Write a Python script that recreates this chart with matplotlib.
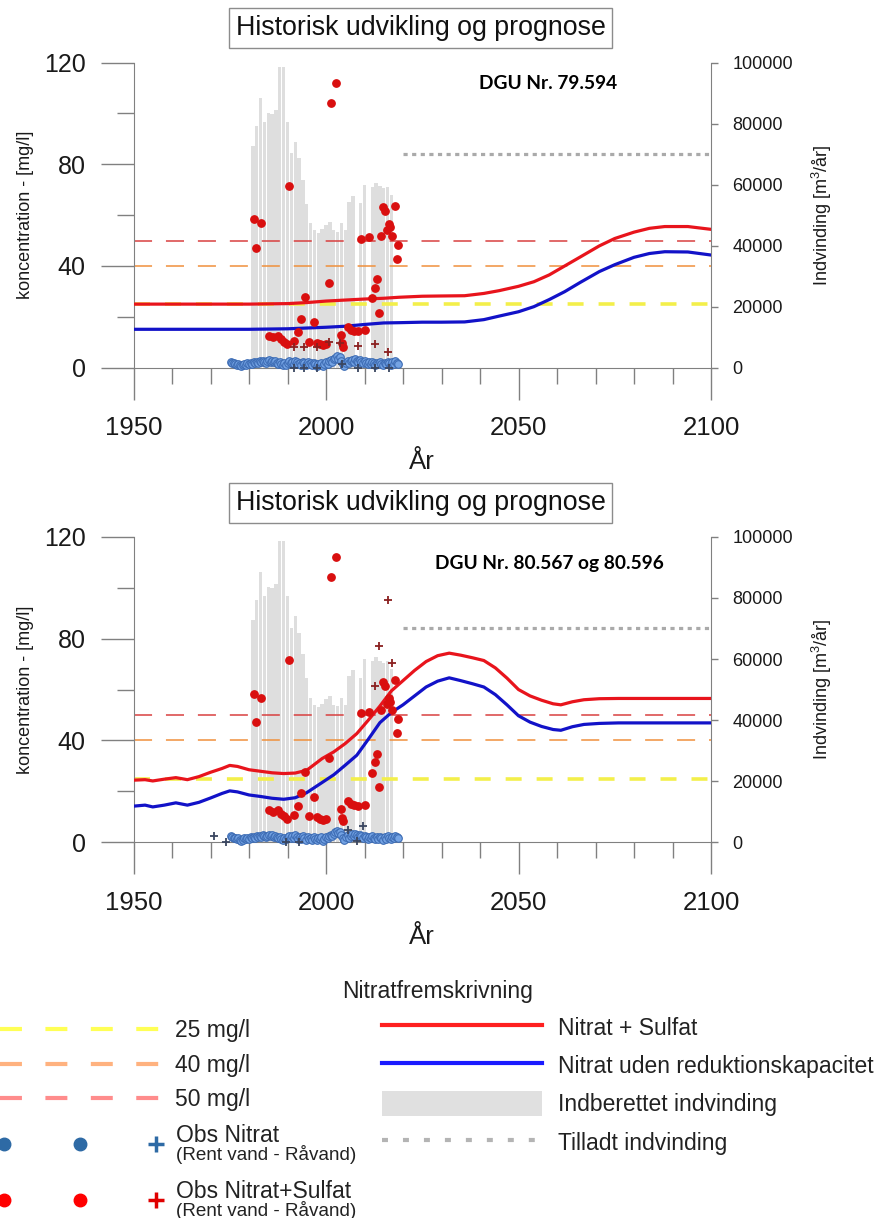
import matplotlib
matplotlib.use("Agg")
import matplotlib.pyplot as plt
from matplotlib.lines import Line2D
from matplotlib.patches import Patch
from matplotlib.legend_handler import HandlerTuple, HandlerLine2D
from matplotlib.ticker import MultipleLocator, FixedLocator

plt.rcParams['font.family'] = ['Liberation Sans', 'DejaVu Sans']
plt.rcParams['mathtext.fontset'] = 'custom'
plt.rcParams['mathtext.rm'] = 'Liberation Sans'
plt.rcParams['mathtext.default'] = 'regular'
plt.rcParams['lines.scale_dashes'] = False

# --- reported abstraction (m3/year), shared by both panels
bar_years = list(range(1981, 2018))
bar_values = [72700, 79200, 88500, 80600, 83600, 83100, 84500, 98500, 98500, 80600,
              70300, 74100, 68600, 61500, 53700, 47300, 45100, 44200, 45400, 46800,
              47800, 45100, 44600, 47300, 45100, 54400, 56300, 0, 53900, 59900,
              0, 59300, 60600, 59500, 58800, 59300, 56600]
allowed_years = [2020, 2100]
allowed_values = [70000, 70000]

# --- observations (mg/l), shared by both panels
obs_nitrat_years = [1975.2, 1975.6, 1976.0, 1976.4, 1976.8, 1977.2, 1977.6, 1978.0, 1978.4, 1978.8,
                    1979.2, 1979.6, 1980.0, 1980.4, 1980.8, 1981.2, 1981.6, 1982.0, 1982.4, 1982.8,
                    1983.2, 1983.6, 1984.0, 1984.4, 1984.8, 1985.2, 1985.6, 1986.0, 1986.4, 1986.8,
                    1987.2, 1987.6, 1988.0, 1988.4, 1988.8, 1989.2, 1989.6, 1990.0, 1990.4, 1990.8,
                    1991.2, 1991.6, 1992.0, 1992.4, 1992.8, 1993.2, 1993.6, 1994.0, 1994.4, 1994.8,
                    1995.2, 1995.6, 1996.0, 1996.4, 1996.8, 1997.2, 1997.6, 1998.0, 1998.4, 1998.8,
                    1999.2, 1999.6, 2000.0, 2000.4, 2000.8, 2001.2, 2001.6, 2002.0, 2002.4, 2002.8,
                    2003.2, 2003.6, 2004.0, 2004.4, 2004.8, 2005.2, 2005.6, 2006.0, 2006.4, 2006.8,
                    2007.2, 2007.6, 2008.0, 2008.4, 2008.8, 2009.2, 2009.6, 2010.0, 2010.4, 2010.8,
                    2011.2, 2011.6, 2012.0, 2012.4, 2012.8, 2013.2, 2013.6, 2014.0, 2014.4, 2014.8,
                    2015.2, 2015.6, 2016.0, 2016.4, 2016.8, 2017.2, 2017.6, 2018.0, 2018.4, 2018.8]
obs_nitrat_values = [2.4, 2.0, 1.8, 1.5, 1.2, 1.6, 0.9, 0.6, 1.0, 1.5,
                     1.2, 1.8, 1.4, 2.0, 1.6, 2.2, 1.8, 2.4, 2.0, 2.6,
                     2.2, 2.8, 2.4, 2.0, 2.6, 3.0, 2.4, 2.8, 2.2, 2.6,
                     2.0, 1.6, 2.2, 1.4, 1.0, 1.8, 1.2, 2.0, 2.6, 1.8,
                     2.4, 1.6, 2.8, 2.2, 1.4, 2.0, 1.2, 2.4, 1.8, 1.0,
                     2.2, 1.4, 1.8, 1.0, 2.0, 1.4, 0.8, 1.6, 1.2, 2.0,
                     0.6, 1.4, 2.2, 1.6, 2.6, 3.0, 2.4, 3.4, 4.0, 4.6,
                     3.6, 4.2, 2.8, 1.6, 0.8, 2.0, 2.8, 1.8, 2.6, 3.2,
                     2.4, 3.4, 2.8, 2.2, 3.0, 2.4, 1.8, 2.6, 2.0, 1.4,
                     2.2, 1.6, 2.4, 1.8, 1.2, 2.0, 1.4, 2.2, 1.6, 1.0,
                     2.0, 1.4, 2.4, 1.8, 1.2, 2.2, 1.6, 2.6, 2.0, 1.6]
obs_sulfat_years = [1981.3, 1981.9, 1983.2, 1985.2, 1986.3, 1987.6, 1988.3, 1989.0, 1989.8, 1990.5,
                    1991.6, 1992.7, 1993.6, 1994.5, 1995.7, 1996.8, 1997.6, 1998.4, 1999.3, 2000.0,
                    2000.8, 2001.4, 2002.7, 2004.0, 2004.1, 2004.3, 2005.7, 2006.5, 2007.4, 2008.4,
                    2009.1, 2010.2, 2011.1, 2012.0, 2012.6, 2013.2, 2013.8, 2014.4, 2014.7, 2015.2,
                    2015.8, 2016.3, 2016.7, 2017.1, 2017.8, 2018.5, 2018.7]
obs_sulfat_values = [58.4, 47.1, 56.7, 12.6, 12.0, 12.5, 11.2, 10.3, 9.3, 71.6,
                     10.6, 14.2, 19.2, 27.7, 10.2, 17.9, 9.8, 9.3, 8.9, 9.3,
                     33.3, 104.2, 112.1, 12.9, 9.6, 8.3, 16.1, 15.0, 14.5, 14.3,
                     50.6, 14.8, 51.3, 27.3, 31.5, 34.8, 21.6, 51.9, 63.1, 61.5,
                     54.2, 56.5, 55.3, 51.8, 63.6, 42.8, 48.3]

# --- raw water observations (crosses), per panel
top_rav_sulfat_years = [1991.6, 1994.4, 1997.6, 2000.9, 2003.7, 2008.2, 2012.6, 2016.0]
top_rav_sulfat_values = [8.0, 8.0, 8.0, 10.0, 9.8, 8.5, 9.3, 6.2]
top_rav_nitrat_years = [1991.6, 1994.4, 1997.6, 2004.2, 2008.2, 2012.6, 2016.4]
top_rav_nitrat_values = [0.0, 0.0, 0.0, 1.5, 0.0, 0.0, 0.0]
bot_rav_sulfat_years = [2012.6, 2013.7, 2016.1, 2017.1]
bot_rav_sulfat_values = [61.2, 77.3, 95.3, 70.4]
bot_rav_nitrat_years = [1970.8, 1974.0, 1989.6, 1993.0, 2005.7, 2008.1, 2009.5]
bot_rav_nitrat_values = [2.6, 0.0, 0.0, 0.0, 4.8, 0.5, 6.5]

# --- model projections (mg/l)
top_years = [1950, 1960, 1970, 1980, 1990, 1995, 2000, 2005, 2010, 2015, 2019, 2025, 2030, 2036,
             2041, 2045, 2050, 2054, 2058, 2062, 2066, 2071, 2075, 2080, 2084, 2088, 2094, 2100]
top_red = [25.0, 25.0, 25.0, 25.0, 25.2, 25.6, 26.2, 26.6, 27.0, 27.3, 27.7, 28.1, 28.2, 28.3,
           29.2, 30.3, 32.0, 33.8, 36.5, 40.0, 43.5, 47.9, 50.8, 53.3, 54.8, 55.5, 55.5, 54.4]
top_blue = [15.1, 15.1, 15.1, 15.1, 15.3, 15.6, 15.9, 16.3, 17.0, 17.6, 17.7, 17.9, 17.9, 18.0,
            18.9, 20.3, 22.0, 24.0, 26.8, 29.9, 33.5, 37.8, 40.5, 43.4, 44.9, 45.6, 45.5, 44.3]

bot_years = [1950, 1953, 1955, 1958, 1961, 1964, 1967, 1970, 1973, 1975, 1977, 1980, 1983, 1986,
             1989, 1992, 1995, 1999, 2002, 2005, 2008, 2011, 2014, 2017, 2020, 2023, 2026, 2029,
             2032, 2035, 2038, 2041, 2044, 2047, 2050, 2053, 2056, 2059, 2061, 2064, 2067, 2071,
             2076, 2085, 2100]
bot_red = [24.4, 24.6, 24.1, 24.8, 25.4, 24.6, 25.8, 27.5, 29.0, 30.2, 29.8, 28.5, 27.9, 27.3,
           27.0, 27.2, 28.3, 32.9, 35.5, 38.8, 42.7, 48.0, 53.5, 59.5, 63.5, 67.5, 71.0, 73.3,
           74.3, 73.5, 72.5, 71.4, 68.5, 64.5, 60.0, 57.5, 55.8, 54.4, 54.0, 55.2, 56.0, 56.4,
           56.5, 56.5, 56.5]
bot_blue = [14.2, 14.6, 13.9, 14.6, 15.5, 14.6, 15.7, 17.4, 19.2, 20.2, 19.8, 18.6, 18.0, 17.3,
            16.9, 17.5, 19.5, 23.5, 26.5, 30.3, 34.2, 40.5, 47.0, 51.0, 54.0, 57.5, 61.0, 63.3,
            64.6, 63.5, 62.3, 61.0, 58.0, 54.0, 49.7, 47.2, 45.5, 44.3, 44.0, 45.4, 46.3, 46.7,
            46.9, 46.9, 46.9]

limits = [25, 40, 50]
limit_colors = ['#f3ef4a', '#f0903c', '#d84040']
left_ticks = [0, 40, 80, 120]
right_ticks = [0, 20000, 40000, 60000, 80000, 100000]
x_ticks = [1950, 2000, 2050, 2100]

W, H = 882, 1218
GRAY = '#808080'
fig = plt.figure(figsize=(W / 100, H / 100), dpi=100)


def px_rect(left, top, right, bottom):
    return [left / W, 1 - bottom / H, (right - left) / W, (bottom - top) / H]


def draw_panel(rect, title_y, dgu_text, dgu_xy, years, red, blue, rs_years, rs_vals, rn_years, rn_vals):
    ax = fig.add_axes(rect)
    ax2 = ax.twinx()
    ax.set_zorder(ax2.get_zorder() + 1)
    ax.patch.set_visible(False)

    ax2.bar(bar_years, bar_values, width=0.88, color='#dedede', zorder=1)
    ax2.plot(allowed_years, allowed_values, color='#aaaaaa', lw=2.3, dashes=(3, 3.2))
    ax2.set_ylim(0, 100000)
    ax2.yaxis.set_major_locator(FixedLocator(right_ticks))
    ax2.set_yticklabels([str(v) for v in right_ticks])
    ax2.tick_params(axis='y', direction='out', length=5, width=1, color=GRAY, pad=10.5,
                    labelsize=13, labelcolor='#1a1a1a')
    for s in ['top', 'left', 'bottom']:
        ax2.spines[s].set_visible(False)
    ax2.spines['right'].set_color(GRAY)
    ax2.set_ylabel('Indvinding [m$^3$/år]', fontsize=13, color='#1a1a1a')
    ax2.yaxis.set_label_coords(1.172, 0.5)

    ax.axhline(limits[0], color=limit_colors[0], lw=2.6, dashes=(11.5, 10.8), zorder=2)
    ax.axhline(limits[1], color=limit_colors[1], lw=1.1, dashes=(13, 10), zorder=2)
    ax.axhline(limits[2], color=limit_colors[2], lw=1.1, dashes=(13, 10), zorder=2)
    ax.plot(years, red, color='#e8141c', lw=2.3, zorder=3)
    ax.plot(years, blue, color='#1212c8', lw=2.3, zorder=3)

    ax.scatter(obs_nitrat_years, obs_nitrat_values, s=30, facecolor='#74a3e4', edgecolor='#3d6cb4',
               linewidth=0.8, zorder=4, clip_on=False)
    ax.scatter(obs_sulfat_years, obs_sulfat_values, s=28, color='#d90f0f', zorder=5, clip_on=False)
    ax.scatter(rs_years, rs_vals, s=40, marker='+', color='#8a2020', linewidth=1.3, zorder=5,
               clip_on=False)
    ax.scatter(rn_years, rn_vals, s=40, marker='+', color='#3a4660', linewidth=1.3, zorder=5,
               clip_on=False)

    ax.set_xlim(1950, 2100)
    ax.set_ylim(0, 120)
    ax.xaxis.set_major_locator(FixedLocator(x_ticks))
    ax.xaxis.set_minor_locator(MultipleLocator(10))
    ax.yaxis.set_major_locator(FixedLocator(left_ticks))
    ax.yaxis.set_minor_locator(MultipleLocator(20))
    ax.tick_params(axis='x', which='major', direction='out', length=23, width=1, color=GRAY,
                   labelsize=18.5, pad=12, labelcolor='#1a1a1a')
    ax.tick_params(axis='x', which='minor', direction='out', length=11.5, width=1, color=GRAY)
    ax.tick_params(axis='y', which='major', direction='out', length=23.5, width=1, color=GRAY,
                   labelsize=18, pad=11, labelcolor='#1a1a1a')
    ax.tick_params(axis='y', which='minor', direction='out', length=12, width=1, color=GRAY)
    for s in ['top', 'right']:
        ax.spines[s].set_visible(False)
    ax.spines['left'].set_color(GRAY)
    ax.spines['bottom'].set_color(GRAY)

    ax.set_ylabel('koncentration - [mg/l]', fontsize=13, color='#1a1a1a')
    ax.yaxis.set_label_coords(-0.172, 0.5)
    ax.set_xlabel('År', fontsize=18.5, color='#1a1a1a')
    ax.xaxis.set_label_coords(0.5, -0.27)

    ax.text(dgu_xy[0], dgu_xy[1], dgu_text, transform=ax.transAxes, ha='center', va='center',
            fontsize=13.8, fontweight='bold', family='Lato')
    fig.text(420.5 / W, 1 - title_y / H, 'Historisk udvikling og prognose', fontsize=19.3,
             ha='center', va='center', color='#111111',
             bbox=dict(boxstyle='square,pad=0.26', fc='white', ec='#8c8c8c', lw=1))
    return ax


draw_panel(px_rect(133.5, 62.5, 711, 367.7), 28.4, 'DGU Nr. 79.594', (0.717, 0.932),
           top_years, top_red, top_blue,
           top_rav_sulfat_years, top_rav_sulfat_values, top_rav_nitrat_years, top_rav_nitrat_values)
draw_panel(px_rect(133.5, 536.8, 711, 842.3), 503.0, 'DGU Nr. 80.567 og 80.596', (0.7195, 0.912),
           bot_years, bot_red, bot_blue,
           bot_rav_sulfat_years, bot_rav_sulfat_values, bot_rav_nitrat_years, bot_rav_nitrat_values)


class HandlerMarkEvery(HandlerLine2D):
    """Line2D legend handler that only marks some of the legend points."""

    def __init__(self, every, **kw):
        super().__init__(**kw)
        self.every = every

    def create_artists(self, *args, **kw):
        artists = super().create_artists(*args, **kw)
        for a in artists:
            a.set_markevery(self.every)
        return artists


# --- legend block below the panels
FS = 16.5
FPX = FS * 100 / 72
leg_kw = dict(loc='upper left', frameon=False, fontsize=FS, borderpad=0, borderaxespad=0,
              labelcolor='#222222')

fig.text(438 / W, 1 - 991.4 / H, 'Nitratfremskrivning', fontsize=FS, ha='center', va='center',
         color='#222222')

leg_a = fig.legend(
    handles=[Line2D([], [], color='#ffff55', lw=3, dashes=(15.8, 16.9)),
             Line2D([], [], color='#ffb27f', lw=3, dashes=(15.8, 16.9)),
             Line2D([], [], color='#ff8c8c', lw=3, dashes=(15.8, 16.9))],
    labels=['25 mg/l', '40 mg/l', '50 mg/l'],
    bbox_to_anchor=(0 / W, 1 - 1019.3 / H), handlelength=159 / FPX, handletextpad=0.69,
    labelspacing=0.50, **leg_kw)

leg_b = fig.legend(
    handles=[Line2D([], [], color='#ff2020', lw=3),
             Line2D([], [], color='#1a1aff', lw=3),
             Patch(facecolor='#e0e0e0', edgecolor='none'),
             Line2D([], [], color='#b4b4b4', lw=3, dashes=(4.3, 10.8))],
    labels=['Nitrat + Sulfat', 'Nitrat uden reduktionskapacitet', 'Indberettet indvinding',
            'Tilladt indvinding'],
    bbox_to_anchor=(381.8 / W, 1 - 1015 / H), handlelength=160 / FPX, handletextpad=0.69,
    handleheight=1.25, labelspacing=0.585, **leg_kw)

nit_dots = Line2D([], [], ls='none', marker='o', markersize=9, color='#2e6aa5')
nit_plus = Line2D([], [], ls='none', marker='+', markersize=11, markeredgewidth=2.5, color='#2e6aa5')
sul_dots = Line2D([], [], ls='none', marker='o', markersize=9, color='#ff0000')
sul_plus = Line2D([], [], ls='none', marker='+', markersize=11, markeredgewidth=2.5, color='#e00000')
leg_c = fig.legend(
    handles=[(nit_dots, nit_plus), (sul_dots, sul_plus)],
    labels=['Obs Nitrat', 'Obs Nitrat+Sulfat'],
    handler_map={tuple: HandlerTuple(ndivide=1, pad=0),
                 nit_dots: HandlerMarkEvery([0, 1]), sul_dots: HandlerMarkEvery([0, 1]),
                 nit_plus: HandlerMarkEvery([2]), sul_plus: HandlerMarkEvery([2])},
    numpoints=3,
    bbox_to_anchor=(-3 / W, 1 - 1134.3 / H), handlelength=166 / FPX, handletextpad=0.55,
    labelspacing=1.44, **leg_kw)
for t in leg_c.get_texts():
    t.set_y(10.5)

for y in [1155, 1210]:
    fig.text(175.7 / W, 1 - y / H, '(Rent vand - Råvand)', fontsize=13.6, ha='left', va='center',
             color='#222222')

fig.savefig('out.png', dpi=100)
